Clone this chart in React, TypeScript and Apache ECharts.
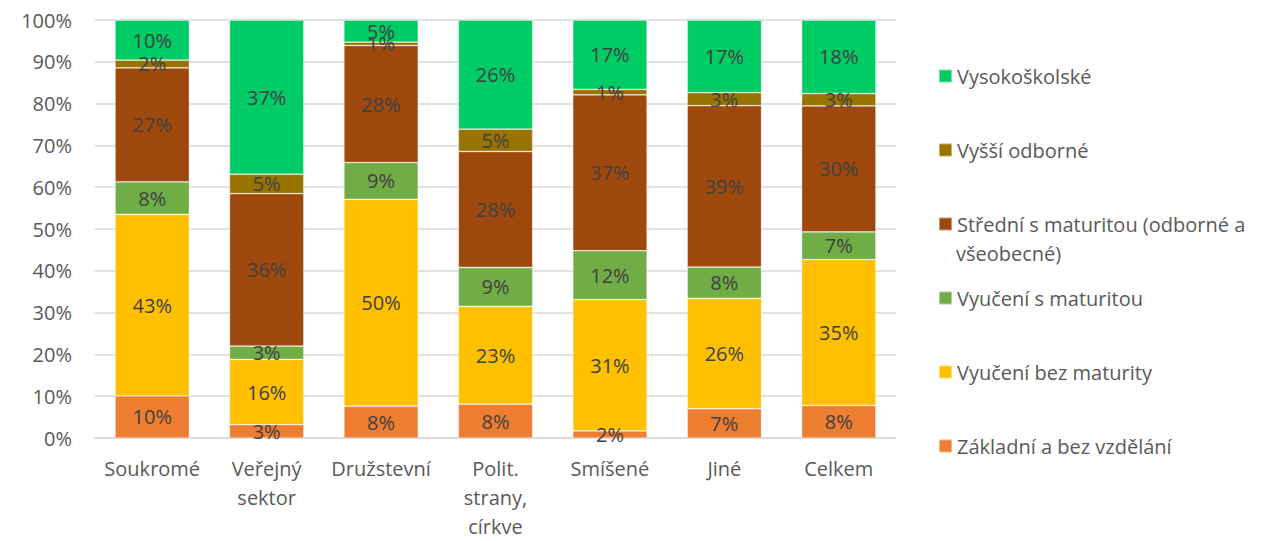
import React, { useEffect, useRef } from "react";
import * as echarts from "echarts";

const categories = ["Soukromé", "Veřejný sektor", "Družstevní", "Polit. strany, církve", "Smíšené", "Jiné", "Celkem"];

const seriesNames = [
  "Základní a bez vzdělání",
  "Vyučení bez maturity",
  "Vyučení s maturitou",
  "Střední s maturitou (odborné a všeobecné)",
  "Vyšší odborné",
  "Vysokoškolské",
];

const zakladni = [10.1, 3.2, 7.6, 8.1, 1.7, 7.0, 7.8];
const vyuceniBez = [43.4, 15.6, 49.5, 23.4, 31.4, 26.4, 34.9];
const vyuceniS = [7.8, 3.2, 8.8, 9.3, 11.7, 7.5, 6.6];
const stredni = [27.25, 36.45, 28.0, 27.75, 37.3, 38.6, 30.15];
const vyssi = [1.85, 4.65, 0.8, 5.35, 1.3, 3.1, 2.95];
const vysokoskolske = [9.6, 36.9, 5.3, 26.1, 16.6, 17.4, 17.6];

const seriesValues = [zakladni, vyuceniBez, vyuceniS, stredni, vyssi, vysokoskolske];
const colors = ["#ED7D31", "#FFC000", "#70AD47", "#9E480E", "#997300", "#00CC66"];
const yTicks = [0, 10, 20, 30, 40, 50, 60, 70, 80, 90, 100];

const FONT = "Open Sans";

export default function App() {
  const ref = useRef<HTMLDivElement>(null);
  useEffect(() => {
    if (!ref.current) return;
    const chart = echarts.init(ref.current, undefined, { renderer: "svg" });
    const stredniName = seriesNames[3];
    chart.setOption({
      animation: false,
      textStyle: { fontFamily: FONT },
      grid: { left: 95, right: 367, top: 20, bottom: 99, containLabel: false },
      xAxis: {
        type: "category",
        data: categories,
        axisLine: { lineStyle: { color: "#D9D9D9", width: 1.5 } },
        axisTick: { show: false },
        axisLabel: {
          color: "#595959",
          fontSize: 20,
          fontFamily: FONT,
          lineHeight: 29,
          margin: 16,
          interval: 0,
          formatter: (v: string) => v.split(" ").join("\n"),
        },
      },
      yAxis: {
        type: "value",
        min: yTicks[0],
        max: yTicks[yTicks.length - 1],
        interval: 10,
        axisLine: { show: false },
        axisTick: { show: false },
        axisLabel: {
          color: "#595959",
          fontSize: 20,
          fontFamily: FONT,
          margin: 23,
          formatter: "{value}%",
        },
        splitLine: { lineStyle: { color: "#D9D9D9", width: 1.5 } },
      },
      legend: {
        orient: "vertical",
        left: 933,
        top: 60,
        itemWidth: 13,
        itemHeight: 13,
        itemGap: 52,
        icon: "rect",
        data: [...seriesNames].reverse(),
        textStyle: { color: "#595959", fontSize: 20, fontFamily: FONT, lineHeight: 22 },
        formatter: (name: string) => (name === stredniName ? "Střední s maturitou (odborné a" : name),
      },
      graphic: [
        {
          type: "text",
          left: 956,
          top: 243,
          style: { text: "všeobecné)", fill: "#595959", font: `20px "${FONT}"` },
        },
      ],
      series: seriesNames.map((name, i) => ({
        name,
        type: "bar",
        stack: "total",
        barCategoryGap: "35%",
        data: seriesValues[i],
        itemStyle: { color: colors[i], borderColor: "rgba(255,255,255,0.45)", borderWidth: 0.75 },
        label: {
          show: true,
          position: "inside",
          color: "#404040",
          fontSize: 20,
          fontFamily: FONT,
          formatter: (p: any) => `${Math.round(p.value)}%`,
        },
        labelLayout: { hideOverlap: false },
      })),
    });
    return () => chart.dispose();
  }, []);
  return <div ref={ref} style={{ width: 1263, height: 541, position: "absolute", left: 0, top: 0 }} />;
}
